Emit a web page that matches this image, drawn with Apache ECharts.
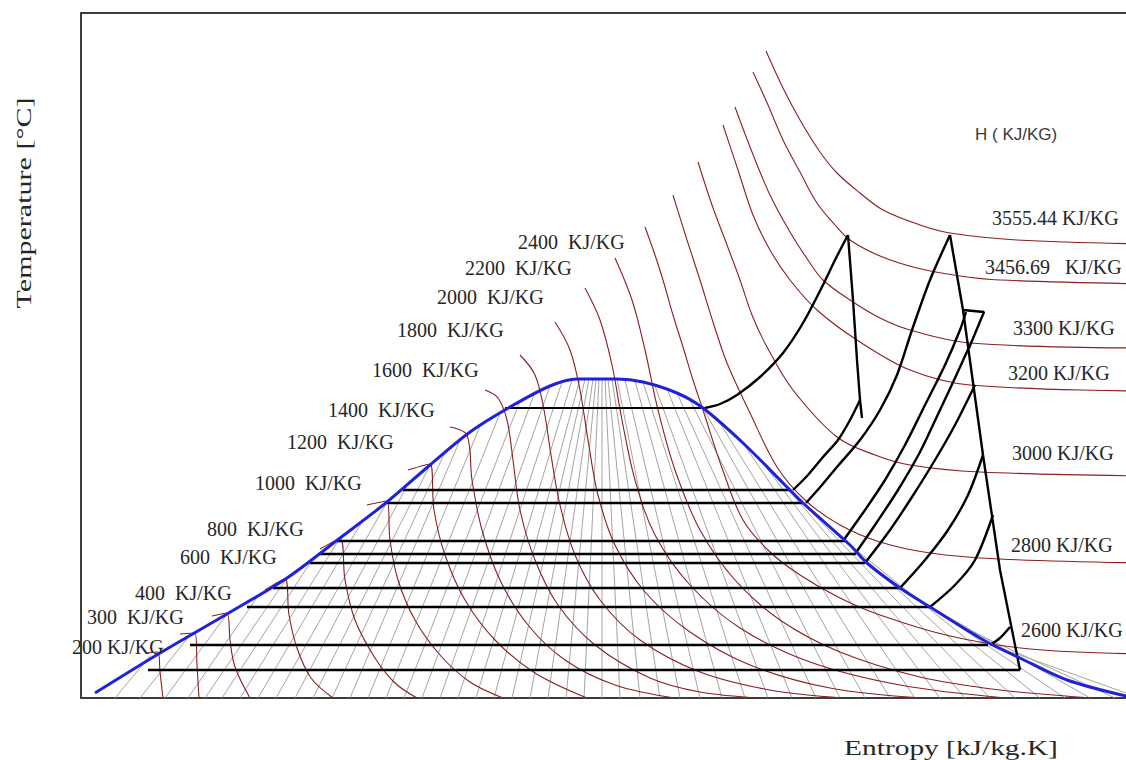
<!DOCTYPE html>
<html>
<head>
<meta charset="utf-8">
<script src="https://cdn.jsdelivr.net/npm/echarts@6/dist/echarts.min.js"></script>
<style>html,body{margin:0;padding:0;background:#fff}#c{width:1126px;height:760px}</style>
</head>
<body>
<div id="c"></div>
<script>
// ---------- DATA (entropy s, temperature T) ----------
// saturation dome
const domeCurve = [[0.95,5],[1.60,45],[2.27,84],[2.87,120],[3.40,160],[3.87,196],[4.30,233],[4.70,266],[5.10,291],[5.50,312],[5.77,319],[6.17,319],[6.43,316],[6.77,305],[7.03,290],[7.43,255],[7.83,215],[8.03,195],[8.50,153],[8.67,135],[9.00,110],[9.30,91],[9.87,56],[10.20,40],[10.67,18],[11.30,1]];

// wet-region isobars
const isobarT  = [290, 208, 195, 157, 144, 135, 110, 91, 53, 28];
const isobarSL = [5.05, 4.03, 3.87, 3.37, 3.20, 3.10, 2.73, 2.47, 1.90, 1.48];
const isobarSR = [7.05, 7.90, 8.03, 8.45, 8.56, 8.65, 9.00, 9.30, 9.88, 10.20];

// gray lines inside the dome (top point, bottom entropy)
const grayTopS = [1.50,1.90,2.27,2.58,2.87,3.12,3.40,3.63,3.87,4.10,4.30,4.45,4.60,4.80,5.00,5.20,5.35,5.50,5.62,5.72,5.80,5.85,5.89,5.93,5.96,5.99,6.02,6.05,6.08,6.12,6.17,6.25,6.35,6.43,6.55,6.67,6.77,6.90,7.03,7.20,7.43,7.63,7.83,8.03,8.27,8.50,8.80,9.15,9.60,10.00];
const grayTopT = [42,63,84,102,120,138,160,178,196,218,233,246,258,272,285,297,306,312,316,318,319,319,319,319,319,319,319,319,319,319,319,318,317,316,312,309,305,298,290,275,255,235,215,195,174,153,125,100,72,50];
const grayBotS = [1.15,1.40,1.65,1.88,2.05,2.22,2.40,2.58,2.76,2.95,3.13,3.32,3.50,3.68,3.86,4.04,4.22,4.40,4.58,4.76,4.94,5.12,5.30,5.48,5.66,5.84,6.02,6.20,6.40,6.60,6.80,7.00,7.22,7.45,7.68,7.92,8.16,8.40,8.65,8.90,9.15,9.40,9.65,9.90,10.15,10.40,10.65,10.90,11.15,11.40];

// constant-enthalpy lines
const h200  = [[1.46,45],[1.58,46],[1.60,26],[1.63,0]];
const h300  = [[1.80,64],[1.95,65],[1.97,33],[1.99,0]];
const h400  = [[2.12,82],[2.27,85],[2.30,58],[2.35,31],[2.50,0]];
const h600  = [[2.65,108],[2.85,119],[2.89,83],[2.97,50],[3.11,20],[3.33,0]];
const h800  = [[3.20,149],[3.40,159],[3.45,118],[3.55,78],[3.75,40],[3.95,15],[4.17,0]];
const h1000 = [[3.67,193],[3.87,197],[3.90,158],[3.98,118],[4.15,78],[4.40,43],[4.70,16],[5.03,0]];
const h1200 = [[4.08,228],[4.30,234],[4.34,188],[4.45,143],[4.65,98],[4.95,58],[5.35,25],[5.87,0]];
const h1400 = [[4.50,271],[4.67,263],[4.72,218],[4.82,168],[5.00,118],[5.28,73],[5.65,38],[6.15,13],[6.75,0]];
const h1600 = [[4.85,308],[4.98,300],[5.07,278],[5.13,238],[5.20,188],[5.35,138],[5.58,93],[5.95,53],[6.50,20],[7.00,6],[7.60,0]];
const h1800 = [[5.20,343],[5.35,323],[5.44,288],[5.51,243],[5.60,193],[5.75,143],[6.00,98],[6.40,58],[7.00,26],[7.70,8],[8.43,0]];
const h2000 = [[5.55,376],[5.70,348],[5.80,308],[5.88,258],[5.98,203],[6.15,153],[6.45,106],[6.90,66],[7.50,33],[8.30,10],[9.23,0]];
const h2200 = [[5.85,410],[6.00,378],[6.12,333],[6.22,278],[6.35,218],[6.55,163],[6.90,113],[7.40,70],[8.10,36],[9.00,13],[10.07,0]];
const h2400 = [[6.15,440],[6.32,398],[6.45,348],[6.58,288],[6.75,228],[7.00,168],[7.35,118],[7.80,78],[8.40,46],[9.20,21],[10.00,8],[10.93,0]];
const h2600 = [[6.45,471],[6.55,443],[6.63,418],[6.73,383],[6.83,351],[6.93,318],[7.03,288],[7.22,230],[7.43,178],[7.70,146],[8.00,123],[8.40,100],[8.80,83],[9.50,62],[10.30,49],[11.46,44]];
const h2800 = [[6.73,503],[6.87,458],[7.00,418],[7.13,376],[7.27,335],[7.50,285],[7.77,231],[8.05,198],[8.40,173],[8.80,156],[9.30,145],[10.00,139],[11.46,135]];
const h3000 = [[6.98,536],[7.12,493],[7.27,453],[7.40,418],[7.52,383],[7.67,351],[7.93,308],[8.37,261],[8.75,243],[9.10,233],[9.80,226],[11.46,222]];
const h3200 = [[7.23,573],[7.38,528],[7.53,483],[7.70,448],[7.90,418],[8.17,388],[8.57,358],[9.10,328],[9.70,313],[11.46,307]];
const h3300 = [[7.35,591],[7.52,546],[7.70,503],[7.90,466],[8.08,438],[8.23,418],[8.50,398],[8.80,380],[9.10,368],[9.70,355],[11.46,350]];
const h3456 = [[7.53,626],[7.68,593],[7.83,558],[8.00,526],[8.17,495],[8.35,473],[8.50,458],[8.80,442],[9.17,430],[9.60,422],[10.00,418],[11.46,414]];
const h3555 = [[7.66,647],[7.83,610],[8.00,578],[8.20,546],[8.37,525],[8.60,505],[8.83,488],[9.20,473],[9.50,465],[10.17,458],[11.46,454]];

// cycle / process lines (superheated region)
const procC1 = [[7.05,290],[7.20,294],[7.37,303],[7.60,321],[7.83,345],[8.03,375],[8.23,413],[8.35,438],[8.48,463]];
const procV1 = [[8.48,463],[8.53,398],[8.57,338],[8.60,298],[8.62,280]];
const procC2 = [[7.93,208],[8.08,223],[8.23,241],[8.38,258],[8.50,278],[8.60,298]];
const procC3 = [[8.06,195],[8.22,213],[8.37,231],[8.60,258],[8.80,288],[8.97,323],[9.12,368],[9.30,418],[9.50,463]];
const procV2 = [[9.50,463],[9.63,388],[9.83,243],[10.00,128],[10.20,28]];
const procTri = [[9.63,388],[9.84,386],[9.69,350]];
const procC4 = [[8.43,157],[8.65,188],[8.85,218],[9.05,253],[9.25,293],[9.45,333],[9.60,368],[9.66,386]];
const procC5 = [[8.55,144],[8.77,176],[8.98,208],[9.20,246],[9.40,288],[9.55,320],[9.70,353]];
const procC6 = [[8.65,135],[8.90,168],[9.12,201],[9.35,238],[9.55,273],[9.75,313]];
const procC7 = [[9.00,110],[9.25,138],[9.48,168],[9.68,203],[9.83,243]];
const procC8 = [[9.30,91],[9.55,113],[9.75,138],[9.93,183]];
const procC9 = [[9.90,53],[10.00,60],[10.10,71]];

// label texts
const leftLabels  = ['2400  KJ/KG','2200  KJ/KG','2000  KJ/KG','1800  KJ/KG','1600  KJ/KG','1400  KJ/KG','1200  KJ/KG','1000  KJ/KG','800  KJ/KG','600  KJ/KG','400  KJ/KG','300  KJ/KG','200 KJ/KG'];
const rightLabels = ['3555.44 KJ/KG','3456.69   KJ/KG','3300 KJ/KG','3200 KJ/KG','3000 KJ/KG','2800 KJ/KG','2600 KJ/KG'];
const hTitle = 'H ( KJ/KG)';
const xTitle = 'Entropy [kJ/kg.K]';
const yTitle = 'Temperature [°C]';

// ---------- LAYOUT / STYLE ----------
const leftLabelPos  = [[518,242],[465,268],[437,297],[397,330],[372,370],[328,410],[287,442],[255,483],[207,529],[180,557],[135,593],[87,617],[72,647]];
const rightLabelPos = [[992,218],[985,267],[1013,328],[1008,373],[1012,453],[1011,545],[1021,630]];

const BROWN = '#8a1f1f', GRAY = '#9a9a9a', BLUE = '#1f22d8', BLACK = '#000', FRAME = '#3c3c3c';

function ln(data, color, width, z, smooth) {
  return {type:'line', data, symbol:'none', showSymbol:false, silent:true, animation:false,
    smooth: smooth || false, lineStyle:{color, width}, z, clip:true, xAxisIndex:0, yAxisIndex:0};
}

const series = [];
for (let i = 0; i < grayTopS.length; i++) {
  series.push(ln([[grayTopS[i], grayTopT[i]], [grayBotS[i], 0]], GRAY, 0.9, 1));
}
[h200,h300,h400,h600,h800,h1000,h1200,h1400,h1600,h1800,h2000,h2200,h2400,h2600,h2800,h3000,h3200,h3300,h3456,h3555]
  .forEach(d => series.push(ln(d, BROWN, 1.1, 2, 0.35)));
for (let i = 0; i < isobarT.length; i++) {
  series.push(ln([[isobarSL[i], isobarT[i]], [isobarSR[i], isobarT[i]]], BLACK, i === 0 ? 2 : 2.7, 3));
}
[procC1,procC2,procC3,procC4,procC5,procC6,procC7,procC8,procC9].forEach(d => series.push(ln(d, BLACK, 2.4, 4, 0.3)));
[procV1,procV2,procTri].forEach(d => series.push(ln(d, BLACK, 2.4, 4)));
series.push(ln(domeCurve, BLUE, 3, 5, 0.3));

const serif = '"Liberation Serif", "Times New Roman", serif';
const graphic = [];
leftLabels.forEach((t, i) => graphic.push({type:'text', x:leftLabelPos[i][0], y:leftLabelPos[i][1], z:100,
  style:{text:t, font:'20px ' + serif, fill:'#262626', align:'left', verticalAlign:'middle', textAlign:'left', textVerticalAlign:'middle'}}));
rightLabels.forEach((t, i) => graphic.push({type:'text', x:rightLabelPos[i][0], y:rightLabelPos[i][1], z:100,
  style:{text:t, font:'20px ' + serif, fill:'#262626', align:'left', verticalAlign:'middle', textAlign:'left', textVerticalAlign:'middle'}}));
graphic.push({type:'text', x:975, y:134, z:100,
  style:{text:hTitle, font:'17px "Liberation Sans", Arial, sans-serif', fill:'#3a3a3a', align:'left', verticalAlign:'middle', textAlign:'left', textVerticalAlign:'middle'}});
graphic.push({type:'text', x:951, y:748, scaleX:1.4, z:100,
  style:{text:xTitle, font:'21px ' + serif, fill:'#262626', align:'center', verticalAlign:'middle', textAlign:'center', textVerticalAlign:'middle'}});
graphic.push({type:'text', x:24, y:203, rotation:Math.PI/2, scaleX:1.43, z:100,
  style:{text:yTitle, font:'21px ' + serif, fill:'#262626', align:'center', verticalAlign:'middle', textAlign:'center', textVerticalAlign:'middle'}});

const frameAxis = {axisLine:{show:true, lineStyle:{color:FRAME, width:2}}, axisTick:{show:false}, axisLabel:{show:false}, splitLine:{show:false}};

const chart = echarts.init(document.getElementById('c'), null, {renderer:'svg'});
chart.setOption({
  backgroundColor:'#ffffff',
  animation:false,
  grid:{left:81, top:13, right:0, bottom:62, show:false},
  xAxis:[
    Object.assign({type:'value', min:0.81, max:11.26, position:'bottom'}, frameAxis),
    Object.assign({type:'value', min:0.81, max:11.26, position:'top'}, frameAxis)
  ],
  yAxis:[
    Object.assign({type:'value', min:0, max:685, position:'left'}, frameAxis)
  ],
  series,
  graphic
});
</script>
</body>
</html>
